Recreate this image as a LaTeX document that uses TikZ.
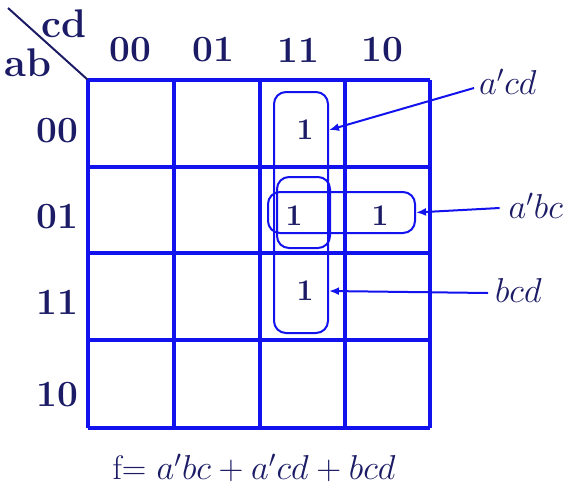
\documentclass[tikz,border=0pt]{standalone}
\usetikzlibrary{arrows.meta,positioning}
\definecolor{kmInk}{HTML}{1C1C66}
\definecolor{kmLine}{HTML}{1212EE}
\tikzset{
  kmGrid/.style={
    draw=kmLine,
    line width=1.6pt
  },
  kmHead/.style={
    font=\fontsize{18.5}{22}\selectfont\bfseries,
    text=kmInk
  },
  kmCorner/.style={
    font=\fontsize{20}{24}\selectfont\bfseries,
    text=kmInk
  },
  kmOne/.style={
    font=\fontsize{15}{18}\selectfont\bfseries,
    text=kmInk
  },
  kmLoop/.style={
    draw=kmLine,
    rounded corners=6pt,
    line width=1pt,
    inner sep=0pt
  },
  kmArrow/.style={
    -{Latex[length=5pt,width=4pt]},
    line width=1pt,
    draw=kmLine
  },
  kmTerm/.style={
    font=\fontsize{18}{21}\selectfont,
    text=kmInk
  }
}

\begin{document}
\begin{tikzpicture}[x=0.5pt,y=-0.5pt]
\useasboundingbox (0,0) rectangle (571,487);

% Corner of the map.
\coordinate (corner) at (88,80);
\coordinate (slash) at (8,8);
\draw[draw=kmInk, line width=1pt] (slash) -- (corner);
\node[kmCorner] (cdlab) at (64,24) {cd};
\node[kmCorner] (ablab) at (28,63) {ab};

% Grid lines.
\foreach \x in {88,174,260,345,430}
  \draw[kmGrid] (\x,80) -- (\x,428);
\foreach \y in {80,167,253,340,428}
  \draw[kmGrid] (88,\y) -- (430,\y);

% Column and row headings.
\node[kmHead] (c00) at (130,50) {00};
\node[kmHead] (c01) at (213,50) {01};
\node[kmHead] (c11) at (298,50) {11};
\node[kmHead] (c10) at (382,50) {10};
\node[kmHead] (r00) at (57,131) {00};
\node[kmHead] (r01) at (57,217) {01};
\node[kmHead] (r11) at (57,302) {11};
\node[kmHead] (r10) at (57,395) {10};

% Minterms.
\node[kmOne] (one0011) at (305,130) {1};
\node[kmOne] (one0111) at (294,216) {1};
\node[kmOne] (one0110) at (380,216) {1};
\node[kmOne] (one1111) at (305,291) {1};

% Groups.
\node[kmLoop, minimum width=27pt, minimum height=120.5pt] (gcol) at (301,212.5) {};
\node[kmLoop, minimum width=26.5pt, minimum height=35.5pt] (gmid) at (303.5,212.5) {};
\node[kmLoop, minimum width=73.5pt, minimum height=20.5pt] (grow) at (341.5,212.5) {};

% Terms and pointers.
\node[kmTerm, anchor=west] (tacd) at (472,82) {$a'cd$};
\node[kmTerm, anchor=east] (tabc) at (570,206) {$a'bc$};
\node[kmTerm, anchor=west] (tbcd) at (488,290) {$bcd$};
\draw[kmArrow] (tacd.west) ++(2,6) -- (gcol.east |- one0011);
\draw[kmArrow] (tabc.west) ++(-2,2) -- (grow.east);
\draw[kmArrow] (tbcd.west) ++(0,3) -- (gcol.east |- one1111);

% Result.
\node[font=\fontsize{17}{20}\selectfont, text=kmInk] (result) at (254,468)
  {f= $a'bc + a'cd + bcd$};

\end{tikzpicture}
\end{document}
